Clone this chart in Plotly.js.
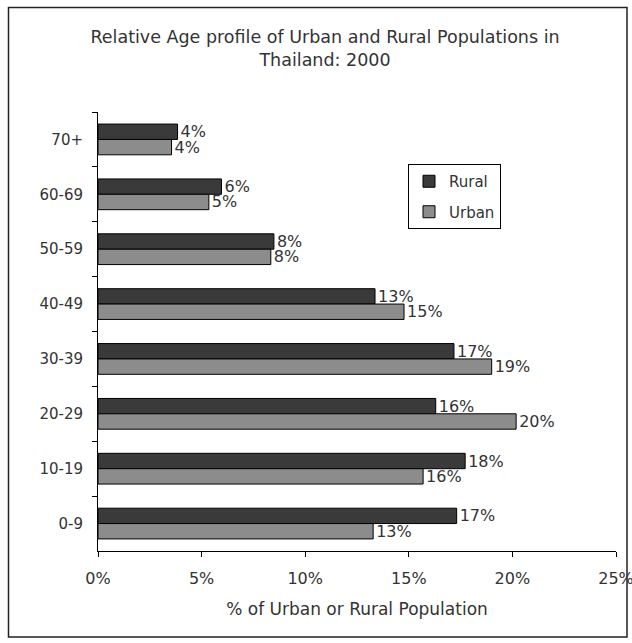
<!DOCTYPE html>
<html>
<head>
<meta charset="utf-8">
<script src="https://cdn.plot.ly/plotly-3.0.1.min.js"></script>
<style>
  html, body { margin: 0; padding: 0; background: #fff; }
  #chart { width: 632px; height: 643px; }
</style>
</head>
<body>
<div id="chart"></div>
<script>
// Age groups, oldest first (drawn top to bottom)
const ageGroups = ["70+", "60-69", "50-59", "40-49", "30-39", "20-29", "10-19", "0-9"];

// Share of each population in the age group, in percent
const ruralShare = [3.84, 5.96, 8.49, 13.37, 17.18, 16.30, 17.72, 17.31];
const urbanShare = [3.55, 5.35, 8.34, 14.77, 19.00, 20.18, 15.69, 13.28];

// Percentage axis ticks
const xTickValues = [0, 5, 10, 15, 20, 25];
const xTickLabels = ["0%", "5%", "10%", "15%", "20%", "25%"];

const W = 632, H = 643;
const margin = { l: 98, r: 16, t: 112, b: 92 };
const plotW = W - margin.l - margin.r;
const plotH = H - margin.t - margin.b;
// pixel -> paper helpers for the frame and legend placement
const px = x => (x - margin.l) / plotW;
const py = y => (H - margin.b - y) / plotH;

const FONT = "DejaVu Sans, Arial, sans-serif";
const TEXT = "#333333";

const barCommon = {
  type: "bar",
  orientation: "h",
  y: ageGroups,
  texttemplate: "%{x:.0f}%",
  textposition: "outside",
  constraintext: "none",
  cliponaxis: false,
  textfont: { family: FONT, size: 16, color: TEXT },
  hoverinfo: "skip"
};

const traces = [
  Object.assign({}, barCommon, {
    name: "Rural",
    x: ruralShare,
    legendgroup: "rural",
    marker: { color: "#3a3a3a", line: { color: "#000", width: 1 } }
  }),
  Object.assign({}, barCommon, {
    name: "Urban",
    x: urbanShare,
    legendgroup: "urban",
    marker: { color: "#8c8c8c", line: { color: "#000", width: 1 } }
  })
];

const layout = {
  width: W,
  height: H,
  margin: margin,
  paper_bgcolor: "#ffffff",
  plot_bgcolor: "#ffffff",
  font: { family: FONT, size: 15, color: TEXT },
  barmode: "group",
  bargap: 0.44,
  bargroupgap: 0,
  showlegend: true,
  title: {
    text: "Relative Age profile of Urban and Rural Populations in<br>Thailand: 2000",
    font: { family: FONT, size: 17.5, color: TEXT },
    x: 325 / W,
    xanchor: "center",
    xref: "container",
    y: 1 - 43 / H,
    yanchor: "top",
    yref: "container"
  },
  xaxis: {
    range: [0, 25],
    tickmode: "array",
    tickvals: xTickValues,
    ticktext: xTickLabels,
    ticklabeloverflow: "allow",
    ticks: "outside",
    ticklen: 5,
    tickwidth: 1,
    tickcolor: "#000",
    showline: true,
    linecolor: "#000",
    linewidth: 1,
    showgrid: false,
    zeroline: false,
    ticklabelstandoff: 8,
    tickfont: { family: FONT, size: 16, color: TEXT },
    title: {
      text: "% of Urban or Rural Population",
      font: { family: FONT, size: 17, color: TEXT },
      standoff: 15
    },
    automargin: false,
    fixedrange: true
  },
  yaxis: {
    type: "category",
    autorange: "reversed",
    tickson: "boundaries",
    ticks: "outside",
    ticklen: 5,
    tickwidth: 1,
    tickcolor: "#000",
    showline: true,
    linecolor: "#000",
    linewidth: 1,
    showgrid: false,
    zeroline: false,
    ticklabelstandoff: 11,
    tickfont: { family: FONT, size: 15, color: TEXT },
    automargin: false,
    fixedrange: true
  },
  legend: {
    x: px(408),
    xanchor: "left",
    y: py(164),
    yanchor: "top",
    bgcolor: "#ffffff",
    bordercolor: "#000",
    borderwidth: 1,
    tracegroupgap: 8,
    font: { family: FONT, size: 15, color: TEXT }
  },
  shapes: [
    {
      type: "rect",
      xref: "paper", yref: "paper",
      x0: px(8.5), x1: px(627), y0: py(7.5), y1: py(637),
      line: { color: "#222", width: 1.5 },
      fillcolor: "rgba(0,0,0,0)",
      layer: "below"
    }
  ]
};

Plotly.newPlot("chart", traces, layout, { displayModeBar: false, staticPlot: true });
</script>
</body>
</html>
